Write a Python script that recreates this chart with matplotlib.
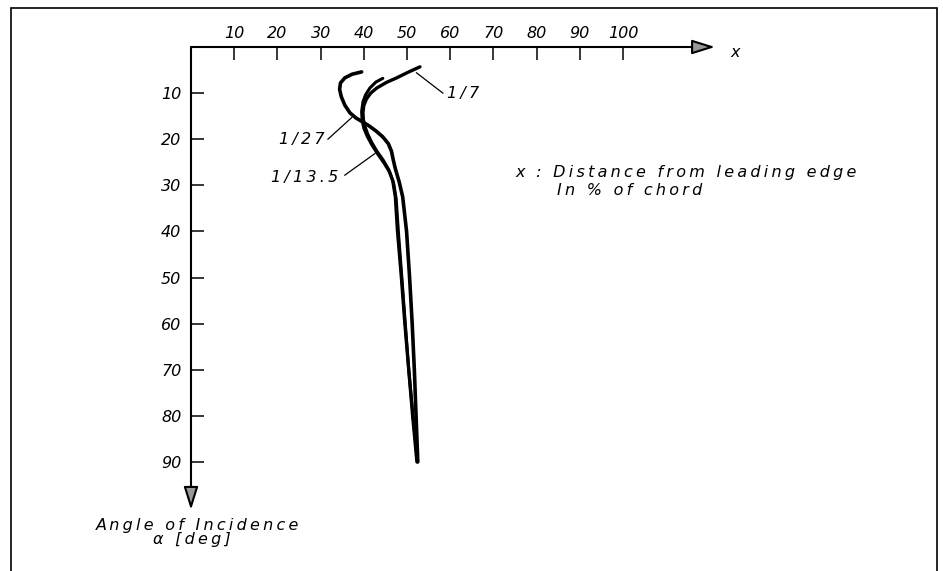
import matplotlib
matplotlib.use("Agg")
import matplotlib.pyplot as plt
from matplotlib.patches import Rectangle

# chord position x [% of chord] vs angle of incidence alpha [deg]
x_1_27 = [39.5, 37.3, 35.6, 34.6, 34.4, 34.8, 35.6, 36.8, 38.2, 39.8, 41.2, 42.8, 44.4,
          45.7, 46.4, 46.8, 47.3, 48.2, 49.0, 49.9, 50.6, 51.2, 51.7, 52.1, 52.5]
a_1_27 = [5.4, 5.9, 6.7, 7.8, 9.2, 10.8, 12.6, 14.3, 15.4, 16.3, 17.1, 18.2, 19.5,
          21.0, 22.6, 24.4, 26.4, 29.3, 32.5, 40, 50, 60, 70, 80, 90]

x_1_135 = [44.4, 42.8, 41.4, 40.4, 39.8, 39.5, 39.6, 40.0, 40.8, 41.9, 43.2, 44.7,
           46.0, 46.9, 47.5, 48.0, 48.8, 49.6, 50.4, 51.4, 52.4]
a_1_135 = [6.8, 7.6, 8.9, 10.4, 11.9, 14.0, 15.8, 17.6, 19.4, 21.3, 23.2, 25.2,
           27.2, 29.5, 33, 40, 50, 60, 70, 80, 90]

x_1_7 = [53.0, 50.2, 47.6, 45.2, 43.0, 41.6, 40.6, 40.0, 39.8, 39.9, 40.3, 40.9,
         41.8, 43.0, 44.5, 45.8, 46.7, 47.3, 47.8, 48.7, 49.5, 50.4, 51.3, 52.3]
a_1_7 = [4.3, 5.5, 6.7, 7.7, 8.9, 10.0, 11.3, 12.7, 14.2, 15.8, 17.4, 18.9,
         20.7, 22.6, 24.6, 26.7, 29.0, 32.5, 40, 50, 60, 70, 80, 90]

x_ticks = [10, 20, 30, 40, 50, 60, 70, 80, 90, 100]
a_ticks = [10, 20, 30, 40, 50, 60, 70, 80, 90]


def spaced(s, gap="\u2009"):
    # wide letter spacing like the old plotter font
    return gap.join(s)


W, H = 943, 571
fig = plt.figure(figsize=(W / 100, H / 100), dpi=100)
fs = 11.5

# outer frame (open at the bottom)
fig.patches.append(Rectangle((11 / W, -0.1), 926 / W, 1.1 - 8 / H, transform=fig.transFigure,
                             fill=False, ec="black", lw=1.2, clip_on=False))

ax = fig.add_axes([191 / W, (H - 47 - 101 * 4.61) / H, 122 * 4.32 / W, 101 * 4.61 / H])
ax.set_xlim(0, 122)
ax.set_ylim(101, 0)
ax.patch.set_visible(False)
for s in ax.spines.values():
    s.set_visible(False)

ax.set_xticks(x_ticks)
ax.set_yticks(a_ticks)
ax.tick_params(axis="x", top=True, labeltop=True, bottom=False, labelbottom=False,
               direction="in", length=9, width=1.1, pad=4.3, labelsize=fs)
ax.tick_params(axis="y", left=True, labelleft=True, direction="in", length=9,
               width=1.1, pad=7, labelsize=fs)
for lab in ax.get_xticklabels() + ax.get_yticklabels():
    lab.set_style("italic")

# axes with arrows
arr = dict(arrowstyle="-|>,head_length=0.7,head_width=0.22", mutation_scale=20,
           fc="0.6", ec="black", lw=1.5, shrinkA=0, shrinkB=0)
ax.annotate("", xy=(121.3, 0), xytext=(0, 0), arrowprops=arr, annotation_clip=False)
ax.annotate("", xy=(0, 100.4), xytext=(0, 0), arrowprops=arr, annotation_clip=False)

# curves
ax.plot(x_1_27, a_1_27, color="black", lw=2.6, solid_capstyle="round", solid_joinstyle="round", clip_on=False)
ax.plot(x_1_135, a_1_135, color="black", lw=2.2, solid_capstyle="round", solid_joinstyle="round", clip_on=False)
ax.plot(x_1_7, a_1_7, color="black", lw=2.4, solid_capstyle="round", solid_joinstyle="round", clip_on=False)

# curve labels with leaders
ax.plot([52.2, 58.3], [5.6, 10.0], color="black", lw=0.9)
ax.text(59.2, 10.0, spaced("1/7"), fontsize=fs, style="italic", ha="left", va="center")
ax.plot([31.7, 37.2], [20.0, 15.3], color="black", lw=0.9)
ax.text(31.0, 20.0, spaced("1/27"), fontsize=fs, style="italic", ha="right", va="center")
ax.plot([35.6, 42.6], [27.8, 23.1], color="black", lw=0.9)
ax.text(34.0, 28.2, spaced("1/13.5"), fontsize=fs, style="italic", ha="right", va="center")

# annotations
ax.text(75.0, 27.3, spaced("x : Distance from leading edge"), fontsize=fs, style="italic",
        ha="left", va="center")
ax.text(84.7, 31.2, spaced("In % of chord"), fontsize=fs, style="italic", ha="left", va="center")
ax.text(124.8, 1.1, "x", fontsize=fs, style="italic", ha="left", va="center", clip_on=False)
ax.text(1.5, 103.7, spaced("Angle of Incidence"), fontsize=fs, style="italic", ha="center",
        va="center", clip_on=False)
ax.text(0.2, 106.9, spaced("α [deg]"), fontsize=fs, style="italic", ha="center", va="center",
        clip_on=False)

fig.savefig("out.png", dpi=100)
